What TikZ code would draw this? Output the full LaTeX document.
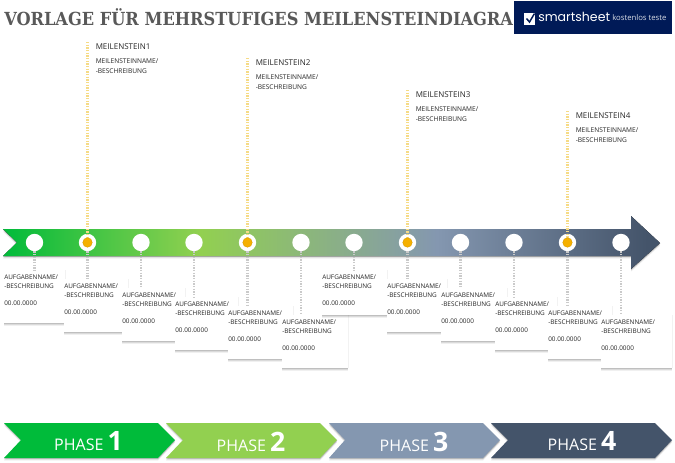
\documentclass[tikz,border=0pt]{standalone}
\usepackage{fontspec}
\setmainfont{Open Sans}
\newfontfamily\titlefont{DejaVu Serif Condensed}
\newfontfamily\logofont{Poppins}
\definecolor{phA}{HTML}{00BB3A}
\definecolor{phB}{HTML}{92D050}
\definecolor{phC}{HTML}{8497B0}
\definecolor{phD}{HTML}{44546A}
\definecolor{goldc}{HTML}{F5B000}
\definecolor{linegold}{HTML}{F6DB86}
\definecolor{linegrey}{HTML}{CACACA}
\definecolor{navy}{HTML}{001A57}
\definecolor{titlegrey}{HTML}{595959}
\definecolor{txt}{HTML}{262626}
\pgfdeclarehorizontalshading{bandshade}{100bp}{
 color(0bp)=(phA); color(25bp)=(phA); color(40bp)=(phB); color(58bp)=(phC); color(74bp)=(phD); color(100bp)=(phD)}
\tikzset{
 softshadow/.style={
   preaction={fill=black,fill opacity=.06,transform canvas={yshift=-2pt}},
   preaction={fill=black,fill opacity=.09,transform canvas={yshift=-1.3pt}},
   preaction={fill=black,fill opacity=.12,transform canvas={yshift=-.7pt}},
   preaction={fill=black,fill opacity=.05,transform canvas={xshift=.5pt,yshift=-.2pt}}},
 card/.style={fill=white,softshadow,anchor=north west,inner sep=0pt,outer sep=0pt},
 cardtext/.style={anchor=north west,inner sep=0pt,font=\fontsize{4.8pt}{6.5pt}\selectfont,text=txt,align=left},
 dot/.style={circle,fill=white,inner sep=0pt,minimum size=13pt,outer sep=0pt},
 golddot/.style={circle,fill=goldc,draw=goldc!85!black,line width=.2pt,inner sep=0pt,minimum size=7.2pt},
 greylink/.style={draw=linegrey,line width=1.65pt,dash pattern=on 1.1pt off .9pt},
 goldlink/.style={draw=linegold,line width=1.65pt,dash pattern=on 1.1pt off .9pt},
 mstitle/.style={anchor=west,inner sep=0pt,font=\fontsize{6pt}{7pt}\selectfont,text=txt},
 msname/.style={anchor=north west,inner sep=0pt,font=\fontsize{4.95pt}{7.5pt}\selectfont,text=txt,align=left},
 phaselabel/.style={anchor=center,inner sep=0pt,text=white,font=\fontsize{12pt}{12pt}\selectfont},
}
\newcommand{\phasetext}[1]{PHASE {\fontsize{20pt}{20pt}\selectfont\bfseries #1}}
\newcommand{\tasktext}{AUFGABENNAME/\\-BESCHREIBUNG\\[6.5pt]00.00.0000}
\newcommand{\mstext}{MEILENSTEINNAME/\\-BESCHREIBUNG}
\begin{document}
\begin{tikzpicture}[x=.75pt,y=-.75pt]
\useasboundingbox (0,0) rectangle (675,462);
% title
\node[anchor=west,inner sep=0pt,text=titlegrey,font=\titlefont\bfseries\fontsize{13.5pt}{15pt}\selectfont] (title) at (4,17.5) {VORLAGE FÜR MEHRSTUFIGES MEILENSTEINDIAGRA};
% logo
\node[anchor=north west,fill=navy,minimum width=118.5pt,minimum height=25pt,inner sep=0pt,outer sep=0pt] (logo) at (514,1) {};
\fill[white] (524,13) rectangle (535,25);
\draw[navy,line width=1.1pt] (526.5,18.5) -- (529.5,22) -- (534.5,13.5);
\node[anchor=west,inner sep=0pt,text=white,font=\logofont\fontsize{9.4pt}{11pt}\selectfont] (logoa) at (538,17) {smartsheet};
\node[anchor=west,inner sep=0pt,text=white!85!navy,font=\fontsize{5.8pt}{7pt}\selectfont] (logob) at (612,18) {kostenlos teste};
% band
\fill[shading=bandshade,softshadow] (3,229) -- (631,229) -- (631,216) -- (660,243) -- (631,269) -- (631,256) -- (3,256) -- (17,242.5) -- cycle;
% circles
\foreach \i/\x in {1/34.5,2/87.5,3/141,4/194,5/247.5,6/301,7/354,8/407.5,9/460.5,10/514,11/567.5,12/621}
  \node[dot] (d\i) at (\x,242.5) {};
% cards with texts
\foreach \i/\x/\y/\w/\h in {1/4/270/61/53,2/64/279/64/53,3/122/288/63/53,4/175/297/63/53,5/228/306/65/53,6/282/315/66/53,7/322/270/65/45,8/387/279/60/53,9/441/288/66/53,10/495/297/62/53,11/548/306/64/53,12/601/315/71/53}{
  \node[card,minimum width=\w*.75pt,minimum height=\h*.75pt] (c\i) at (\x,\y) {};
  \node[cardtext] (t\i) at ([yshift=-3.4pt]c\i.north west) {\tasktext};
}
% connectors
\foreach \i in {1,...,12}
  \draw[greylink] (d\i.south) -- (d\i.south |- c\i.north);
% milestones
\foreach \i/\d/\x/\y in {1/2/87.5/42,2/5/247.5/58,3/8/407.5/90,4/11/567.5/111}{
  \coordinate (top\i) at (\x,\y);
  \draw[goldlink] (top\i) -- (d\d.center);
  \node[golddot] (g\i) at (d\d) {};
  \node[mstitle] (mt\i) at (\x+8,\y+4.5) {MEILENSTEIN\i};
  \node[msname] (mn\i) at (\x+8,\y+16.2) {\mstext};
}
% phases
\fill[phA,softshadow] (4,423) -- (158,423) -- (175,440) -- (158,458) -- (4,458) -- (21,440) -- cycle;
\fill[phB,softshadow] (166,423) -- (320,423) -- (337,440) -- (320,458) -- (166,458) -- (183,440) -- cycle;
\fill[phC,softshadow] (329,423) -- (483,423) -- (500,440) -- (483,458) -- (329,458) -- (345,440) -- cycle;
\fill[phD,softshadow] (491,423) -- (655,423) -- (672,440) -- (655,458) -- (491,458) -- (508,440) -- cycle;
\node[phaselabel] (p1) at (88.5,441.5) {\phasetext{1}};
\node[phaselabel] (p2) at (251,441.5) {\phasetext{2}};
\node[phaselabel] (p3) at (414,441.5) {\phasetext{3}};
\node[phaselabel] (p4) at (582,441.5) {\phasetext{4}};
\end{tikzpicture}
\end{document}
